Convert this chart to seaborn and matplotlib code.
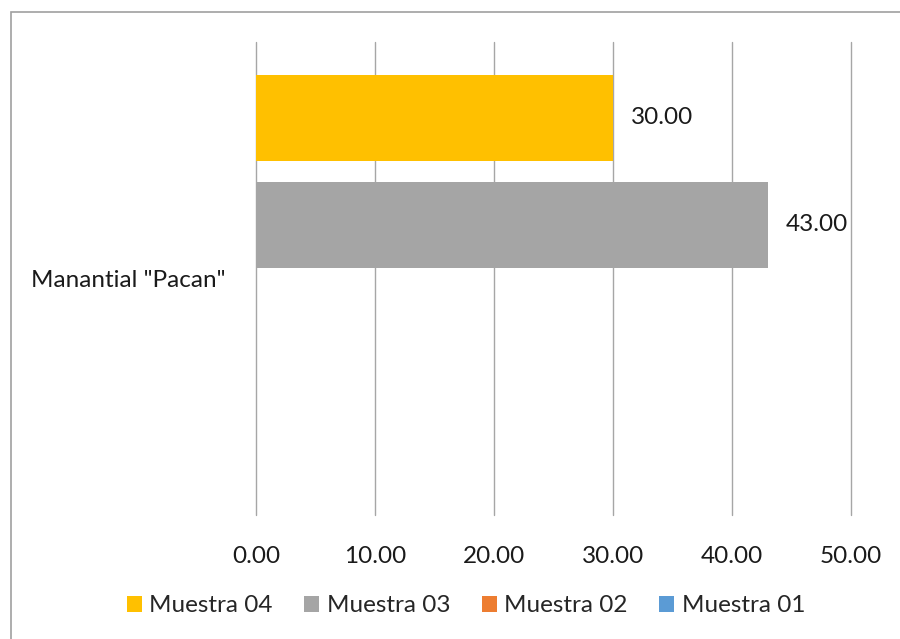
import matplotlib
matplotlib.use("Agg")
import matplotlib.pyplot as plt
import seaborn as sns
import pandas as pd
import numpy as np
from matplotlib.patches import Rectangle

categories = ['Manantial "Pacan"']
series = ["Muestra 04", "Muestra 03", "Muestra 02", "Muestra 01"]
values = [30.0, 43.0, 0.0, 0.0]
colors = ["#FFC000", "#A5A5A5", "#ED7D31", "#5B9BD5"]
xticks = [0, 10, 20, 30, 40, 50]

df = pd.DataFrame({
    "site": categories * len(series),
    "serie": series,
    "value": values,
})

sns.set_style("white")
plt.rcParams["font.family"] = ["Lato", "DejaVu Sans"]
FS = 17.5

fig = plt.figure(figsize=(9, 6.39), dpi=100)
ax = fig.add_axes([256/900, 1-515/639, (851-256)/900, (515-42)/639])

sns.barplot(data=df, y="site", x="value", hue="serie", hue_order=series,
            palette=colors, saturation=1, orient="h", width=0.905, gap=0.196,
            linewidth=0, ax=ax, legend=True)

ax.set_xlim(0, 50)
ax.set_ylim(0.5, -0.5)
ax.set_xticks(xticks)
ax.set_xticklabels([f"{v:.2f}" for v in xticks], fontsize=FS, color="#1a1a1a")
ax.tick_params(axis="x", length=0, pad=22)
ax.tick_params(axis="y", length=0, pad=22, labelsize=FS, labelcolor="#1a1a1a")
ax.set_xlabel("")
ax.set_ylabel("")
ax.grid(axis="x", color="#A6A6A6", linewidth=1)
ax.grid(axis="y", visible=False)
ax.set_axisbelow(True)
for gl in ax.get_xgridlines():
    gl.set_clip_on(False)
for s in ax.spines.values():
    s.set_visible(False)

for cont, v in zip(ax.containers, values):
    if v > 0:
        ax.bar_label(cont, labels=[f"{v:.2f}"], padding=13, fontsize=FS, color="#1a1a1a")

leg = ax.get_legend()
handles = leg.legend_handles
labels = [t.get_text() for t in leg.get_texts()]
leg.remove()
fig.legend(handles, labels, loc="center", bbox_to_anchor=(466/900, 1-606/639),
           ncol=4, frameon=False, fontsize=FS, handlelength=0.62, handleheight=0.62,
           handletextpad=0.3, columnspacing=1.3)

fig.patches.append(Rectangle((11/900, -0.1), 1.2, 1-12/639+0.1, transform=fig.transFigure,
                             fill=False, edgecolor="#A0A0A0", linewidth=1.2))

fig.savefig("out.png", dpi=100)
